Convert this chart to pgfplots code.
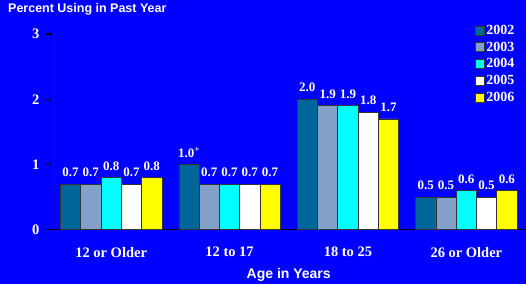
\documentclass[border=0pt]{standalone}
\usepackage{fontspec}
\setmainfont{Liberation Serif}
\setsansfont{Liberation Sans}
\usepackage{pgfplots}
\pgfplotsset{compat=1.18}
\definecolor{bg}{HTML}{0000FF}
\definecolor{cA}{HTML}{00669A}
\definecolor{cB}{HTML}{82A0C8}
\definecolor{cC}{HTML}{00FFFF}
\definecolor{cD}{HTML}{FFFFFF}
\definecolor{cE}{HTML}{FFFF00}
\definecolor{edge}{HTML}{333333}
\pgfplotsset{legsq/.style={legend image code/.code={\draw[fill=##1,draw=edge,line width=0.6pt] (0pt,-4.5pt) rectangle (9pt,4.5pt);}}}
\begin{document}
\begin{tikzpicture}[x=1pt,y=1pt]
\fill[bg] (0,0) rectangle (526,284);
\node[anchor=west,font=\sffamily\bfseries\fontsize{12.5}{14}\selectfont,text=white,inner sep=0] at (8,275) {Percent Using in Past Year};
\begin{axis}[
  at={(52pt,54pt)}, anchor=south west,
  scale only axis, width=474pt, height=196pt,
  xmin=-0.5, xmax=3.5, ymin=0, ymax=3,
  axis lines*=left,
  axis line style={black, line width=1pt},
  ytick={0,1,2,3}, xtick={0,1,2,3},
  xticklabels={12 or Older, 12 to 17, 18 to 25, 26 or Older},
  x tick style={draw=none},
  y tick style={draw=black, line width=1.2pt},
  tick align=outside, major tick length=6pt,
  ticklabel style={font=\bfseries\fontsize{14.5}{16}\selectfont, text=white},
  /pgf/number format/assume math mode=true,
  xticklabel style={yshift=-8pt},
  yticklabel style={xshift=-3pt},
  xlabel={Age in Years},
  xlabel style={font=\sffamily\bfseries\fontsize{14}{16}\selectfont, text=white, yshift=-4pt},
  ybar=0pt, bar width=20.3pt,
  clip=false,
  nodes near coords, point meta=explicit symbolic,
  nodes near coords style={font=\bfseries\fontsize{13}{15}\selectfont, text=white, anchor=south, yshift=3.5pt},
  legend style={at={(0.886,1.067)}, anchor=north west, draw=none, fill=none,
    font=\bfseries\fontsize{14}{17}\selectfont, text=white, row sep=2pt},
  legend cell align=left,
]
\addplot[fill=cA, draw=edge, line width=0.6pt, legsq] coordinates {(0,0.7) [0.7] (1,1.0) [1.0\textsuperscript{+}] (2,2.0) [2.0] (3,0.5) [0.5]};
\addplot[fill=cB, draw=edge, line width=0.6pt, legsq] coordinates {(0,0.7) [0.7] (1,0.7) [0.7] (2,1.9) [1.9] (3,0.5) [0.5]};
\addplot[fill=cC, draw=edge, line width=0.6pt, legsq] coordinates {(0,0.8) [0.8] (1,0.7) [0.7] (2,1.9) [1.9] (3,0.6) [0.6]};
\addplot[fill=cD, draw=edge, line width=0.6pt, legsq] coordinates {(0,0.7) [0.7] (1,0.7) [0.7] (2,1.8) [1.8] (3,0.5) [0.5]};
\addplot[fill=cE, draw=edge, line width=0.6pt, legsq] coordinates {(0,0.8) [0.8] (1,0.7) [0.7] (2,1.7) [1.7] (3,0.6) [0.6]};
\legend{2002,2003,2004,2005,2006}
\end{axis}
\end{tikzpicture}
\end{document}
